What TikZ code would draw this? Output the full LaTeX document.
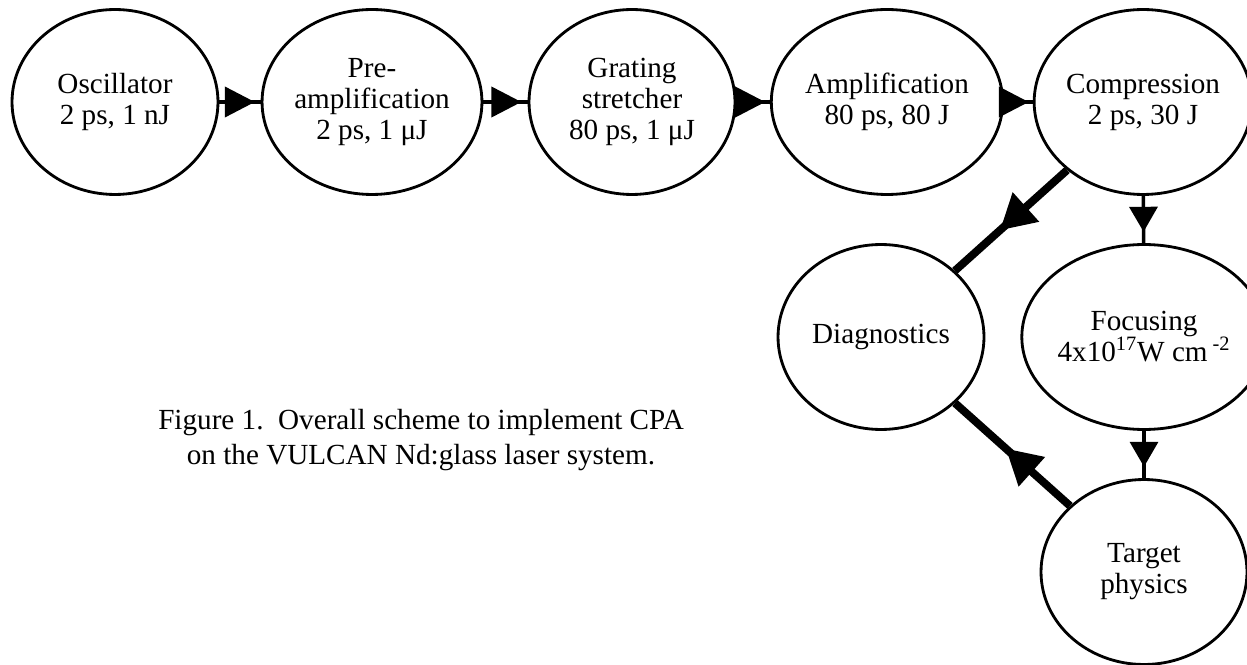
\documentclass[tikz,border=0pt]{standalone}
\usepackage{fontspec}
\setmainfont{Liberation Serif}
\usetikzlibrary{shapes.geometric,arrows.meta,decorations.markings}
\tikzset{
  stage/.style={draw, ellipse, line width=1.6pt, minimum width=4.12cm,
    minimum height=3.7cm, inner sep=0pt, align=center,
    font=\fontsize{16.6}{17.6}\selectfont},
  flow/.style={line width=2.2pt, postaction={decorate},
    decoration={markings, mark=at position #1 with
      {\arrow{Triangle[length=0.6cm,width=0.6cm]}}}},
  drop/.style={line width=2pt, postaction={decorate},
    decoration={markings, mark=at position #1 with
      {\arrow{Triangle[length=0.5cm,width=0.56cm]}}}},
  feed/.style={line width=4.5pt, postaction={decorate},
    decoration={markings, mark=at position #1 with
      {\arrow{Triangle[length=0.7cm,width=0.75cm]}}}}
}
\begin{document}
\begin{tikzpicture}[x=0.02cm,y=-0.02cm]
  \useasboundingbox (0,0) rectangle (1247,665);
  \node[stage] (osc) at (115,102) {Oscillator\\2 ps, 1 nJ};
  \node[stage] (pre) at (372,102) {Pre-\\amplification\\2 ps, 1 μJ};
  \node[stage] (grat) at (632,102) {Grating\\stretcher\\80 ps, 1 μJ};
  \node[stage] (amp) at (887,102) {Amplification\\80 ps, 80 J};
  \node[stage] (comp) at (1143,102) {Compression\\2 ps, 30 J};
  \node[stage] (diag) at (881,337) {Diagnostics};
  \node[stage] (foc) at (1144,337) {Focusing\\4x10\textsuperscript{17}W cm\,\textsuperscript{-2}};
  \node[stage] (targ) at (1144,572) {Target\\physics};
  \node[align=center, font=\fontsize{16.6}{19.5}\selectfont] (cap) at (421,440)
    {Figure 1.\ \ Overall scheme to implement CPA\\on the VULCAN Nd:glass laser system.};
  \draw[flow=0.86] (osc) -- (pre);
  \draw[flow=0.86] (pre) -- (grat);
  \draw[flow=0.86] (grat) -- (amp);
  \draw[flow=0.86] (amp) -- (comp);
  \draw[drop=0.76] (comp) -- (foc);
  \draw[drop=0.76] (foc) -- (targ);
  \draw[feed=0.6] (comp) -- (diag);
  \draw[feed=0.56] (targ) -- (diag);
\end{tikzpicture}
\end{document}
